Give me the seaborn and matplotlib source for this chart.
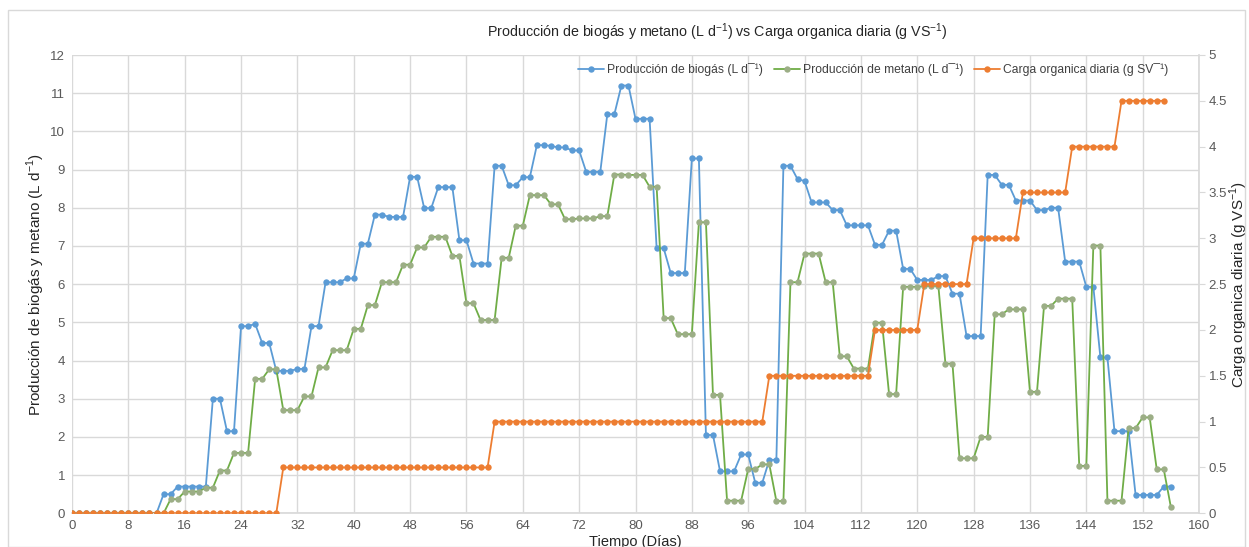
import matplotlib
matplotlib.use("Agg")
import matplotlib.pyplot as plt
import seaborn as sns
import pandas as pd
from matplotlib.lines import Line2D
from matplotlib.patches import Rectangle

# Producción diaria de biogás (L/d), días 0-156
biogas = [
    0, 0, 0, 0, 0, 0, 0, 0, 0, 0,
    0, 0, 0, 0.50, 0.50, 0.70, 0.70, 0.70, 0.70, 0.70,
    3.00, 3.00, 2.15, 2.15, 4.90, 4.90, 4.96, 4.46, 4.46, 3.73,
    3.73, 3.73, 3.78, 3.78, 4.90, 4.90, 6.05, 6.05, 6.05, 6.15,
    6.15, 7.06, 7.06, 7.82, 7.82, 7.76, 7.76, 7.76, 8.81, 8.81,
    7.99, 7.99, 8.54, 8.54, 8.54, 7.15, 7.15, 6.54, 6.54, 6.54,
    9.10, 9.10, 8.59, 8.59, 8.80, 8.80, 9.64, 9.64, 9.62, 9.58,
    9.58, 9.50, 9.50, 8.94, 8.94, 8.94, 10.45, 10.45, 11.20, 11.20,
    10.33, 10.33, 10.33, 6.94, 6.94, 6.29, 6.29, 6.29, 9.29, 9.29,
    2.05, 2.05, 1.10, 1.10, 1.10, 1.54, 1.54, 0.80, 0.80, 1.40,
    1.40, 9.10, 9.10, 8.75, 8.70, 8.14, 8.14, 8.14, 7.94, 7.94,
    7.54, 7.54, 7.54, 7.54, 7.03, 7.03, 7.40, 7.40, 6.40, 6.40,
    6.11, 6.11, 6.11, 6.21, 6.21, 5.75, 5.75, 4.64, 4.64, 4.64,
    8.86, 8.86, 8.60, 8.60, 8.19, 8.19, 8.19, 7.94, 7.94, 8.00,
    8.00, 6.59, 6.59, 6.59, 5.93, 5.93, 4.08, 4.08, 2.15, 2.15,
    2.15, 0.48, 0.48, 0.48, 0.48, 0.70, 0.70,
]

# Producción diaria de metano (L/d), días 0-156
metano = [
    0, 0, 0, 0, 0, 0, 0, 0, 0, 0,
    0, 0, 0, 0, 0.37, 0.37, 0.57, 0.57, 0.57, 0.67,
    0.67, 1.12, 1.12, 1.58, 1.58, 1.58, 3.52, 3.52, 3.77, 3.77,
    2.70, 2.70, 2.70, 3.06, 3.06, 3.82, 3.82, 4.27, 4.27, 4.27,
    4.83, 4.83, 5.45, 5.45, 6.05, 6.05, 6.05, 6.51, 6.51, 6.96,
    6.96, 7.24, 7.24, 7.24, 6.74, 6.74, 5.50, 5.50, 5.06, 5.06,
    5.06, 6.69, 6.69, 7.53, 7.53, 8.33, 8.33, 8.33, 8.09, 8.09,
    7.70, 7.70, 7.72, 7.72, 7.72, 7.78, 7.78, 8.87, 8.87, 8.86,
    8.86, 8.86, 8.55, 8.55, 5.11, 5.11, 4.69, 4.69, 4.69, 7.62,
    7.62, 3.10, 3.10, 0.33, 0.33, 0.33, 1.16, 1.16, 1.28, 1.28,
    0.32, 0.32, 6.05, 6.05, 6.80, 6.80, 6.80, 6.05, 6.05, 4.11,
    4.11, 3.79, 3.79, 3.79, 4.99, 4.99, 3.12, 3.12, 5.93, 5.93,
    5.93, 5.95, 5.95, 5.95, 3.92, 3.92, 1.44, 1.44, 1.44, 2.00,
    2.00, 5.21, 5.21, 5.34, 5.34, 5.34, 3.18, 3.18, 5.43, 5.43,
    5.62, 5.62, 5.62, 1.24, 1.24, 7.01, 7.01, 0.33, 0.33, 0.33,
    2.23, 2.23, 2.51, 2.51, 1.15, 1.15, 0.17,
]

# Carga orgánica diaria (g SV), días 0-155
carga = ([0.0] * 30 + [0.5] * 30 + [1.0] * 39 + [1.5] * 15 + [2.0] * 7
         + [2.5] * 7 + [3.0] * 7 + [3.5] * 7 + [4.0] * 7 + [4.5] * 7)

x_ticks = list(range(0, 161, 8))
y_left_ticks = list(range(0, 13))
y_right_ticks = [0, 0.5, 1, 1.5, 2, 2.5, 3, 3.5, 4, 4.5, 5]

legend_labels = [
    "Producción de biogás (L d\u00af\u00b9)",
    "Producción de metano (L d\u00af\u00b9)",
    "Carga organica diaria (g SV\u00af\u00b9)",
]

df_bio = pd.DataFrame({"dia": range(len(biogas)), "valor": biogas})
df_met = pd.DataFrame({"dia": range(len(metano)), "valor": metano})
df_car = pd.DataFrame({"dia": range(len(carga)), "valor": carga})

sns.set_theme(style="white")
plt.rcParams["font.family"] = ["Liberation Sans", "DejaVu Sans"]

BLUE = "#5B9BD5"
GREEN = "#70AD47"
GREEN_MK = "#9CAE86"
ORANGE = "#ED7D31"
GRID = "#D9D9D9"
TXT = "#595959"
LABEL = "#262626"

fig = plt.figure(figsize=(12.49, 5.47), dpi=100)
ax = fig.add_axes([72 / 1249, 1 - 513.3 / 547, (1199 - 72) / 1249, (513.3 - 55) / 547])
ax2 = ax.twinx()

lw, ms = 1.3, 4.6
sns.lineplot(data=df_bio, x="dia", y="valor", ax=ax, color=BLUE, lw=lw,
             marker="o", markersize=ms, markeredgewidth=0, zorder=3)
sns.lineplot(data=df_met, x="dia", y="valor", ax=ax, color=GREEN, lw=lw,
             marker="o", markersize=ms, markeredgewidth=0,
             markerfacecolor=GREEN_MK, zorder=4)
sns.lineplot(data=df_car, x="dia", y="valor", ax=ax2, color=ORANGE, lw=lw,
             marker="o", markersize=ms, markeredgewidth=0, zorder=3)

ax.set_xlim(0, 160)
ax.set_ylim(0, 12)
ax2.set_ylim(0, 5)
ax.set_xticks(x_ticks)
ax.set_yticks(y_left_ticks)
ax2.set_yticks(y_right_ticks)
ax2.set_yticklabels([f"{v:g}" for v in y_right_ticks])

ax.grid(True, color=GRID, lw=1.0)
ax.set_axisbelow(True)
ax2.grid(False)

for a in (ax, ax2):
    for s in a.spines.values():
        s.set_visible(False)
ax.spines["bottom"].set_visible(True)
ax.spines["bottom"].set_color(GRID)
ax2.spines["right"].set_visible(True)
ax2.spines["right"].set_color(GRID)

ax.tick_params(axis="both", length=0, labelsize=9.5, colors=TXT, pad=5)
ax2.tick_params(axis="y", length=4, width=0.8, color=GRID, labelsize=9.5,
                labelcolor=TXT, pad=3, direction="out")

ax.set_xlabel("Tiempo (Días)", fontsize=10.5, color=LABEL, labelpad=2)
ax.set_ylabel("Producción de biogás y metano (L d$^{\\mathregular{-1}}$)",
              fontsize=11, color=LABEL, labelpad=2)
ax2.set_ylabel("Carga organica diaria (g VS$^{\\mathregular{-1}}$)",
               fontsize=11, color=LABEL, rotation=90, labelpad=0)

fig.text(717 / 1249, 1 - 32 / 547,
         "Producción de biogás y metano (L d$^{\\mathregular{-1}}$) vs "
         "Carga organica diaria (g VS$^{\\mathregular{-1}}$)",
         ha="center", va="center", fontsize=10.3, color=LABEL)

handles = [
    Line2D([], [], color=BLUE, lw=lw, marker="o", markersize=ms, markeredgewidth=0),
    Line2D([], [], color=GREEN, lw=lw, marker="o", markersize=ms, markeredgewidth=0,
           markerfacecolor=GREEN_MK),
    Line2D([], [], color=ORANGE, lw=lw, marker="o", markersize=ms, markeredgewidth=0),
]
leg = ax2.legend(handles, legend_labels, loc="upper right", ncol=3,
                 bbox_to_anchor=(0.98, 1.0), frameon=False, fontsize=8.7,
                 handlelength=2.2, handletextpad=0.2, columnspacing=0.9,
                 borderaxespad=0.3)
for t in leg.get_texts():
    t.set_color("#404040")

fig.patches.append(Rectangle((8 / 1249, 0), (1245 - 8) / 1249, 1 - 10 / 547,
                             transform=fig.transFigure, fill=False,
                             edgecolor=GRID, lw=1.0))

fig.savefig("out.png", dpi=100)
